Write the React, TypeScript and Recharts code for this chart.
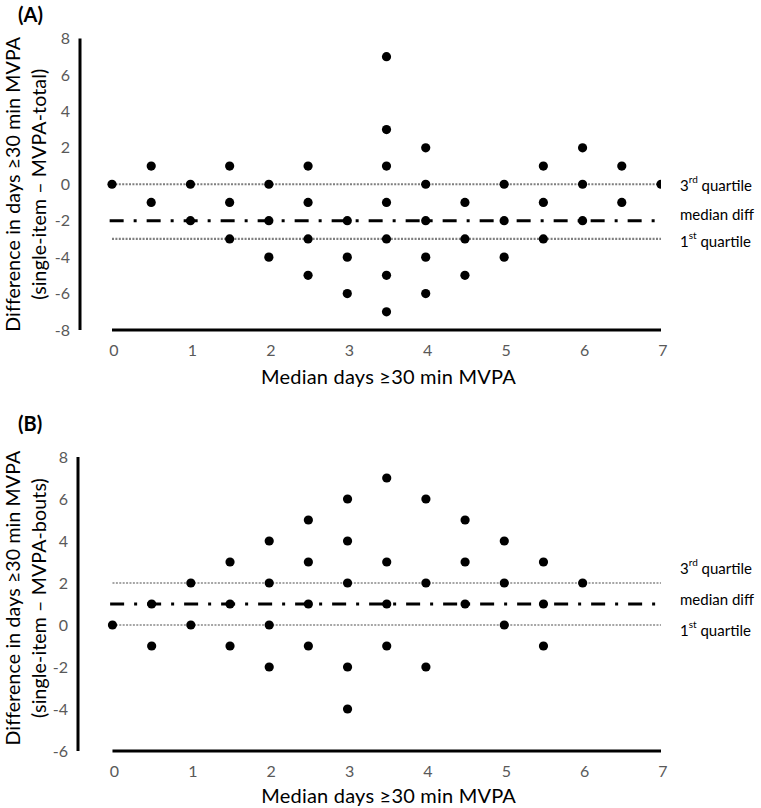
import React from 'react';
import { ScatterChart, Scatter, XAxis, YAxis, ReferenceLine } from 'recharts';

// Median days (x) levels shared by both panels
const xLevels = [0, 0.5, 1, 1.5, 2, 2.5, 3, 3.5, 4, 4.5, 5, 5.5, 6, 6.5, 7];
// Panel A: differences (single-item – MVPA-total) at each x level
const diffsA = [
  [0], [1, -1], [0, -2], [1, -1, -3], [0, -2, -4], [1, -1, -3, -5], [-2, -4, -6],
  [7, 3, 1, -1, -3, -5, -7], [2, 0, -2, -4, -6], [-1, -3, -5], [0, -2, -4],
  [1, -1, -3], [2, 0, -2], [1, -1], [0],
];
// Panel B: differences (single-item – MVPA-bouts) at each x level
const diffsB = [
  [0], [1, -1], [2, 0], [3, 1, -1], [4, 2, 0, -2], [5, 3, 1, -1], [6, 4, 2, -2, -4],
  [7, 3, 1, -1], [6, 2, -2], [5, 3, 1], [4, 2, 0], [3, 1, -1], [2], [], [],
];
const xTicks = [0, 1, 2, 3, 4, 5, 6, 7];
const yTicksA = [-8, -6, -4, -2, 0, 2, 4, 6, 8];
const yTicksB = [-6, -4, -2, 0, 2, 4, 6, 8];
const quartilesA = [-3, -2, 0]; // 1st quartile, median diff, 3rd quartile
const quartilesB = [0, 1, 2];

const FONT = 'Lato, "Open Sans", sans-serif';
const xTitle = 'Median days ≥30 min MVPA';
const yTitle = 'Difference in days ≥30 min MVPA';
const subTitleA = '(single-item – MVPA-total)';
const subTitleB = '(single-item – MVPA-bouts)';

const Dot = (props: any) => {
  const { cx, cy } = props;
  if (cx == null || cy == null) return null;
  return <circle cx={cx} cy={cy} r={4.6} fill="#000" />;
};

function Panel(props: any) {
  const {
    title, subTitle, diffs, yTicks, quartiles, dotColor, xMin, width, height, margin,
    titleY, yLabelShift, xLabelDy, labelDy,
  } = props;
  const points = xLevels.flatMap((x, i) => (diffs[i] || []).map((y: number) => ({ x, y })));
  const yMin = yTicks[0];
  const yMax = yTicks[yTicks.length - 1];
  const xMax = xTicks[xTicks.length - 1];
  const [q1, med, q3] = quartiles;

  const yLabelContent = (p: any) => {
    const vb = p.viewBox || {};
    const cy = vb.y + vb.height / 2 + yLabelShift;
    return (
      <g fontFamily={FONT} fill="#000">
        <text x={18} y={titleY} fontSize={20} fontWeight={700} fill="#000">{title}</text>
        <text transform={`translate(19.5 ${cy}) rotate(-90)`} textAnchor="middle" fontSize={19.5} letterSpacing={0.15} fill="#000">{yTitle}</text>
        <text transform={`translate(45.5 ${cy}) rotate(-90)`} textAnchor="middle" fontSize={19.5} letterSpacing={0.15} fill="#000">{subTitle}</text>
      </g>
    );
  };

  const xLabelContent = (p: any) => {
    const vb = p.viewBox || {};
    const cx = vb.x + (vb.width * ((xMax / 2) - xMin)) / (xMax - xMin);
    return (
      <text x={cx + 2} y={vb.y + xLabelDy} textAnchor="middle" fontFamily={FONT} fontSize={20} letterSpacing={0.2} fill="#000">
        {xTitle}
      </text>
    );
  };

  const rightLabel = (kind: string, dy: number) => (p: any) => {
    const vb = p.viewBox || {};
    const x = vb.x + vb.width + 19;
    const y = vb.y + dy;
    const common = { fontFamily: FONT, fontSize: 15, fill: '#000', dominantBaseline: 'central' as any };
    if (kind === 'median') return <text x={x} y={y} {...common}>median diff</text>;
    const num = kind === 'q3' ? '3' : '1';
    const sup = kind === 'q3' ? 'rd' : 'st';
    return (
      <text x={x} y={y} {...common}>
        {num}
        <tspan fontSize={10} dy={-6}>{sup}</tspan>
        <tspan dy={6}> quartile</tspan>
      </text>
    );
  };

  return (
    <ScatterChart width={width} height={height} margin={margin}>
      <XAxis
        type="number"
        dataKey="x"
        domain={[xMin, xMax]}
        ticks={xTicks}
        allowDataOverflow
        axisLine={false}
        tickLine={false}
        tickMargin={9}
        height={60}
        tick={{ fill: '#595959', fontSize: 16, fontFamily: FONT, dx: 2 }}
        label={{ content: xLabelContent }}
      />
      <YAxis
        type="number"
        dataKey="y"
        domain={[yMin, yMax]}
        ticks={yTicks}
        allowDataOverflow
        axisLine={{ stroke: '#000', strokeWidth: 3 }}
        tickLine={false}
        tickMargin={4}
        width={80}
        tick={{ fill: '#595959', fontSize: 16, fontFamily: FONT }}
        label={{ content: yLabelContent }}
      />
      <Scatter data={points} shape={Dot} isAnimationActive={false} />
      <ReferenceLine
        segment={[{ x: 0, y: yMin }, { x: xMax, y: yMin }]}
        stroke="#000"
        strokeWidth={3}
      />
      <ReferenceLine
        segment={[{ x: 0, y: q3 }, { x: xMax, y: q3 }]}
        stroke={dotColor}
        strokeWidth={2.2}
        strokeDasharray="2 1.4"
        label={{ content: rightLabel('q3', labelDy[2]) }}
      />
      <ReferenceLine
        segment={[{ x: 0, y: q1 }, { x: xMax, y: q1 }]}
        stroke={dotColor}
        strokeWidth={2.2}
        strokeDasharray="2 1.4"
        label={{ content: rightLabel('q1', labelDy[0]) }}
      />
      <ReferenceLine
        segment={[{ x: -0.03, y: med }, { x: xMax, y: med }]}
        stroke="#000"
        strokeWidth={3}
        strokeDasharray="14 10 3 10"
        label={{ content: rightLabel('median', labelDy[1]) }}
      />
    </ScatterChart>
  );
}

export default function App() {
  return (
    <div style={{ position: 'absolute', left: 0, top: 0, width: 761, height: 808, background: '#fff', fontFamily: FONT }}>
      <div style={{ position: 'absolute', left: 0, top: 0 }}>
        <Panel
          title="(A)"
          subTitle={subTitleA}
          diffs={diffsA}
          yTicks={yTicksA}
          quartiles={quartilesA}
          dotColor="#7f7f7f"
          xMin={-0.408}
          width={761}
          height={400}
          margin={{ top: 38.5, right: 100, bottom: 10, left: 0 }}
          titleY={22}
          yLabelShift={0}
          xLabelDy={54}
          labelDy={[2, -7, 1]}
        />
      </div>
      <div style={{ position: 'absolute', left: 0, top: 400 }}>
        <Panel
          title="(B)"
          subTitle={subTitleB}
          diffs={diffsB}
          yTicks={yTicksB}
          quartiles={quartilesB}
          dotColor="#a6a6a6"
          xMin={-0.44}
          width={761}
          height={408}
          margin={{ top: 57, right: 100, bottom: -3, left: -2 }}
          titleY={31}
          yLabelShift={-6}
          xLabelDy={52}
          labelDy={[5, -5, -15]}
        />
      </div>
    </div>
  );
}
